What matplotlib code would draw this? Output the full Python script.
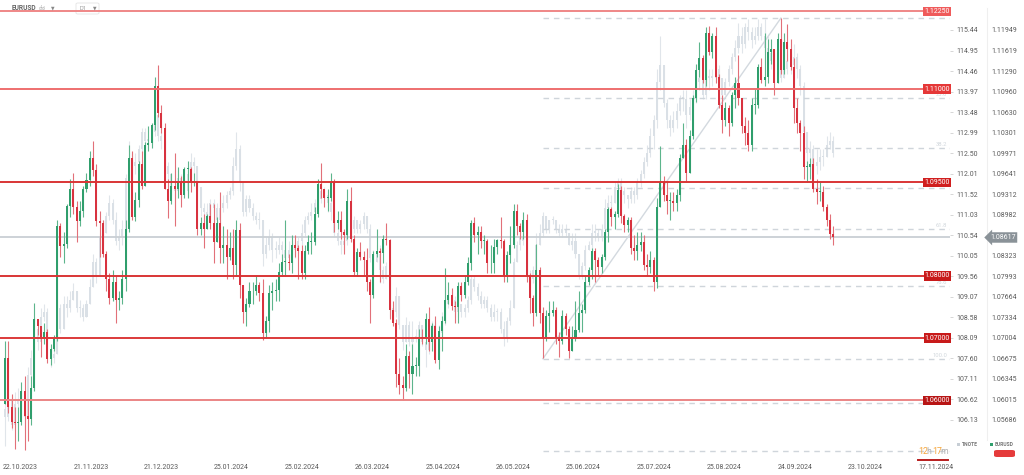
import numpy as np
import pandas as pd
import matplotlib
matplotlib.use('Agg')
import matplotlib.pyplot as plt
from matplotlib.patches import FancyBboxPatch

plt.rcParams['font.family'] = ['Roboto', 'DejaVu Sans']

# ---------------- data ----------------
HOLIDAYS = ['2023-12-25', '2024-01-01', '2024-03-29', '2024-04-01']
dates = pd.bdate_range('2023-10-23', '2024-10-17')
dates = dates[~dates.isin(pd.to_datetime(HOLIDAYS))]

eur_first_open = 1.0594
eur_close = [
    1.0668, 1.0590, 1.0565, 1.0563, 1.0565, 1.0615, 1.0575,
    1.0570, 1.0620, 1.0730, 1.0720, 1.0698, 1.0710, 1.0666, 1.0683, 1.0700, 1.0880, 1.0848, 1.0852, 1.0912, 1.0940, 1.0910, 1.0888, 1.0905, 1.0940, 1.0954, 1.0990, 1.0970, 1.0888,
    1.0885, 1.0835, 1.0795, 1.0764, 1.0790, 1.0762, 1.0764, 1.0795, 1.0875, 1.0990, 1.0895, 1.0922, 1.0980, 1.0945, 1.1010, 1.1013, 1.1042, 1.1105, 1.1062, 1.1038,
    1.0940, 1.0920, 1.0945, 1.0940, 1.0950, 1.0930, 1.0972, 1.0972, 1.0950, 1.0950, 1.0876, 1.0885, 1.0875, 1.0897, 1.0885, 1.0855, 1.0885, 1.0845, 1.0850, 1.0830, 1.0845, 1.0818,
    1.0873, 1.0785, 1.0742, 1.0755, 1.0775, 1.0775, 1.0785, 1.0772, 1.0708, 1.0727, 1.0772, 1.0776, 1.0778, 1.0807, 1.0822, 1.0823, 1.0820, 1.0850, 1.0845, 1.0840, 1.0805,
    1.0840, 1.0855, 1.0855, 1.0900, 1.0948, 1.0940, 1.0925, 1.0925, 1.0950, 1.0885, 1.0890, 1.0870, 1.0865, 1.0920, 1.0860, 1.0807, 1.0838, 1.0830, 1.0825, 1.0790,
    1.0770, 1.0835, 1.0840, 1.0836, 1.0860, 1.0857, 1.0745, 1.0725, 1.0643, 1.0624, 1.0620, 1.0672, 1.0643, 1.0655, 1.0655, 1.0702, 1.0700, 1.0730, 1.0694, 1.0720, 1.0665,
    1.0712, 1.0728, 1.0762, 1.0770, 1.0752, 1.0750, 1.0783, 1.0770, 1.0790, 1.0820, 1.0885, 1.0865, 1.0870, 1.0856, 1.0856, 1.0820, 1.0820, 1.0847, 1.0858, 1.0856, 1.0800, 1.0833, 1.0850,
    1.0905, 1.0880, 1.0870, 1.0890, 1.0800, 1.0765, 1.0740, 1.0810, 1.0740, 1.0700, 1.0735, 1.0740, 1.0745, 1.0700, 1.0695, 1.0735, 1.0715, 1.0680, 1.0700, 1.0713,
    1.0740, 1.0745, 1.0790, 1.0810, 1.0840, 1.0825, 1.0815, 1.0830, 1.0870, 1.0907, 1.0895, 1.0900, 1.0938, 1.0897, 1.0882, 1.0890, 1.0845, 1.0840, 1.0850, 1.0855, 1.0818, 1.0815, 1.0825,
    1.0790, 1.0910, 1.0950, 1.0930, 1.0920, 1.0920, 1.0917, 1.0930, 1.0990, 1.1010, 1.0966, 1.1025, 1.1085, 1.1130, 1.1150, 1.1115, 1.1190, 1.1160, 1.1185, 1.1120, 1.1075, 1.1050,
    1.1070, 1.1045, 1.1090, 1.1110, 1.1085, 1.1040, 1.1030, 1.1010, 1.1075, 1.1075, 1.1135, 1.1115, 1.1120, 1.1160, 1.1165, 1.1110, 1.1180, 1.1130, 1.1175, 1.1165, 1.1135,
    1.1070, 1.1045, 1.1030, 1.0975, 1.0975, 1.0980, 1.0940, 1.0935, 1.0935, 1.0910, 1.0890, 1.0868, 1.08617,
]
eur_high = [
    1.0695, 1.0695, 1.0610, 1.0590, 1.0590, 1.0630, 1.0640,
    1.0600, 1.0640, 1.0756, 1.0730, 1.0720, 1.0725, 1.0715, 1.0690, 1.0705, 1.0890, 1.0885, 1.0870, 1.0915, 1.0955, 1.0965, 1.0920, 1.0920, 1.0945, 1.0965, 1.1000, 1.1017, 1.0980,
    1.0905, 1.0890, 1.0840, 1.0805, 1.0810, 1.0800, 1.0775, 1.0810, 1.0890, 1.1010, 1.1000, 1.0935, 1.0985, 1.1000, 1.1015, 1.1040, 1.1045, 1.1120, 1.1139, 1.1075,
    1.1045, 1.0955, 1.0965, 1.0998, 1.0975, 1.0960, 1.0975, 1.0985, 1.0975, 1.0965, 1.0950, 1.0895, 1.0900, 1.0900, 1.0915, 1.0915, 1.0895, 1.0935, 1.0880, 1.0875, 1.0870, 1.0875,
    1.0890, 1.0885, 1.0785, 1.0765, 1.0790, 1.0790, 1.0800, 1.0790, 1.0795, 1.0735, 1.0785, 1.0790, 1.0795, 1.0820, 1.0835, 1.0890, 1.0835, 1.0865, 1.0865, 1.0850, 1.0850,
    1.0850, 1.0865, 1.0870, 1.0910, 1.0955, 1.0981, 1.0940, 1.0940, 1.0965, 1.0955, 1.0905, 1.0905, 1.0875, 1.0940, 1.0942, 1.0865, 1.0845, 1.0855, 1.0840, 1.0845,
    1.0795, 1.0840, 1.0876, 1.0845, 1.0865, 1.0885, 1.0860, 1.0760, 1.0730, 1.0668, 1.0640, 1.0690, 1.0680, 1.0690, 1.0670, 1.0715, 1.0715, 1.0740, 1.0750, 1.0725, 1.0735,
    1.0720, 1.0735, 1.0812, 1.0790, 1.0780, 1.0760, 1.0790, 1.0790, 1.0800, 1.0830, 1.0890, 1.0895, 1.0880, 1.0880, 1.0865, 1.0860, 1.0850, 1.0860, 1.0860, 1.0895, 1.0860, 1.0840, 1.0880,
    1.0915, 1.0915, 1.0885, 1.0902, 1.0900, 1.0805, 1.0770, 1.0852, 1.0815, 1.0750, 1.0745, 1.0760, 1.0760, 1.0750, 1.0710, 1.0745, 1.0740, 1.0720, 1.0720, 1.0760,
    1.0775, 1.0755, 1.0800, 1.0815, 1.0845, 1.0845, 1.0830, 1.0835, 1.0875, 1.0910, 1.0910, 1.0905, 1.0948, 1.0945, 1.0900, 1.0895, 1.0895, 1.0865, 1.0870, 1.0870, 1.0865, 1.0835, 1.0840,
    1.0830, 1.0925, 1.1009, 1.0960, 1.0950, 1.0935, 1.0935, 1.0940, 1.0995, 1.1045, 1.1020, 1.1035, 1.1090, 1.1140, 1.1175, 1.1155, 1.1200, 1.1201, 1.1190, 1.1200, 1.1125, 1.1090,
    1.1080, 1.1075, 1.1095, 1.1120, 1.1155, 1.1080, 1.1055, 1.1050, 1.1085, 1.1100, 1.1140, 1.1150, 1.1190, 1.1180, 1.1180, 1.1165, 1.1190, 1.1214, 1.1190, 1.1205, 1.1180,
    1.1150, 1.1085, 1.1050, 1.1040, 1.0985, 1.0990, 1.0990, 1.0955, 1.0950, 1.0945, 1.0915, 1.0900, 1.0880,
]
eur_low = [
    1.0594, 1.0580, 1.0555, 1.0522, 1.0535, 1.0560, 1.0520,
    1.0535, 1.0560, 1.0615, 1.0705, 1.0670, 1.0690, 1.0660, 1.0657, 1.0680, 1.0695, 1.0830, 1.0820, 1.0845, 1.0895, 1.0900, 1.0855, 1.0880, 1.0895, 1.0935, 1.0945, 1.0960, 1.0880,
    1.0830, 1.0830, 1.0775, 1.0755, 1.0760, 1.0725, 1.0745, 1.0755, 1.0775, 1.0870, 1.0890, 1.0888, 1.0910, 1.0940, 1.0945, 1.1000, 1.1005, 1.1035, 1.1055, 1.1030,
    1.0940, 1.0893, 1.0915, 1.0880, 1.0925, 1.0910, 1.0925, 1.0925, 1.0935, 1.0945, 1.0865, 1.0865, 1.0845, 1.0875, 1.0875, 1.0820, 1.0855, 1.0820, 1.0820, 1.0795, 1.0825, 1.0795,
    1.0800, 1.0765, 1.0725, 1.0720, 1.0750, 1.0755, 1.0770, 1.0760, 1.0697, 1.0700, 1.0710, 1.0745, 1.0760, 1.0760, 1.0800, 1.0800, 1.0810, 1.0805, 1.0830, 1.0795, 1.0795,
    1.0795, 1.0835, 1.0835, 1.0850, 1.0895, 1.0925, 1.0910, 1.0905, 1.0920, 1.0870, 1.0875, 1.0860, 1.0835, 1.0860, 1.0855, 1.0800, 1.0800, 1.0825, 1.0800, 1.0775,
    1.0725, 1.0765, 1.0830, 1.0790, 1.0820, 1.0850, 1.0730, 1.0720, 1.0622, 1.0610, 1.0601, 1.0615, 1.0620, 1.0610, 1.0640, 1.0640, 1.0690, 1.0690, 1.0680, 1.0680, 1.0660,
    1.0650, 1.0680, 1.0725, 1.0755, 1.0745, 1.0725, 1.0725, 1.0760, 1.0765, 1.0785, 1.0810, 1.0855, 1.0835, 1.0845, 1.0835, 1.0805, 1.0805, 1.0805, 1.0835, 1.0845, 1.0790, 1.0790, 1.0820,
    1.0845, 1.0865, 1.0860, 1.0860, 1.0790, 1.0740, 1.0720, 1.0735, 1.0725, 1.0668, 1.0695, 1.0710, 1.0735, 1.0690, 1.0670, 1.0690, 1.0705, 1.0668, 1.0680, 1.0695,
    1.0710, 1.0710, 1.0740, 1.0785, 1.0795, 1.0790, 1.0800, 1.0805, 1.0825, 1.0855, 1.0880, 1.0875, 1.0895, 1.0885, 1.0870, 1.0870, 1.0835, 1.0825, 1.0825, 1.0840, 1.0810, 1.0800, 1.0805,
    1.0775, 1.0780, 1.0920, 1.0920, 1.0900, 1.0890, 1.0905, 1.0905, 1.0920, 1.0995, 1.0950, 1.0965, 1.1020, 1.1080, 1.1120, 1.1110, 1.1105, 1.1155, 1.1150, 1.1110, 1.1070, 1.1030,
    1.1040, 1.1025, 1.1040, 1.1070, 1.1075, 1.1030, 1.1010, 1.1000, 1.1000, 1.1060, 1.1070, 1.1110, 1.1105, 1.1110, 1.1140, 1.1090, 1.1110, 1.1125, 1.1125, 1.1145, 1.1130,
    1.1045, 1.1030, 1.1000, 1.0955, 1.0950, 1.0955, 1.0935, 1.0915, 1.0920, 1.0905, 1.0880, 1.0860, 1.0850,
]

tn_first_open = 106.4
tn_close = [
    106.2, 106.6, 106.0, 106.5, 106.6, 106.5, 106.2,
    107.2, 107.6, 108.3, 108.0, 108.6, 108.7, 107.8, 107.6, 107.7, 108.8, 108.3, 108.9, 108.8, 109.0, 109.2, 108.8, 108.8, 108.6, 108.9, 109.3, 109.9, 109.6,
    110.5, 110.6, 111.0, 111.3, 110.9, 110.4, 110.5, 110.7, 111.9, 112.3, 112.2, 112.3, 112.6, 113.0, 112.8, 112.8, 113.0, 113.4, 112.9, 112.8,
    112.2, 112.0, 111.7, 111.6, 111.9, 111.8, 111.6, 112.0, 112.3, 112.2, 111.7, 111.2, 111.1, 111.0, 111.3, 111.2, 110.9, 111.2, 111.3, 111.5, 111.6, 112.2,
    112.6, 111.8, 111.1, 111.4, 111.2, 111.0, 110.9, 110.9, 110.1, 110.3, 110.5, 110.2, 110.2, 110.3, 110.2, 110.0, 110.2, 110.3, 110.2, 110.4, 110.6,
    110.9, 111.0, 111.1, 111.3, 111.4, 111.6, 111.5, 111.3, 111.1, 110.6, 110.4, 110.3, 110.4, 110.6, 110.7, 110.9, 110.7, 110.8, 111.0, 110.7,
    110.0, 109.9, 110.1, 109.7, 109.5, 109.8, 108.8, 108.7, 109.1, 108.4, 108.0, 108.4, 108.0, 108.1, 108.1, 108.4, 108.0, 107.8, 108.1, 108.4, 107.8,
    108.2, 108.5, 108.9, 109.0, 109.0, 108.7, 108.9, 108.7, 108.8, 109.0, 109.5, 109.3, 109.1, 108.9, 109.0, 108.8, 108.6, 108.7, 108.7, 108.3, 108.1, 108.5, 108.8,
    109.9, 110.3, 110.5, 110.4, 109.6, 109.5, 109.7, 110.3, 110.6, 111.0, 110.7, 110.9, 110.9, 110.7, 110.6, 110.7, 110.6, 110.3, 110.4, 110.1,
    109.6, 109.8, 110.2, 110.3, 110.6, 110.6, 110.5, 110.7, 111.2, 111.3, 111.3, 111.7, 111.8, 111.6, 111.5, 111.4, 111.6, 111.5, 111.8, 112.0, 112.3, 112.5, 112.9,
    113.3, 114.2, 114.6, 113.7, 113.3, 113.1, 113.3, 113.5, 113.8, 113.8, 113.4, 113.6, 113.8, 114.2, 114.3, 113.9, 114.3, 114.3, 114.3, 114.5, 114.3, 113.9,
    114.2, 114.5, 114.8, 115.0, 115.3, 115.1, 115.5, 115.4, 115.2, 115.3, 115.5, 115.3, 115.0, 114.9, 114.7, 114.6, 114.6, 114.3, 114.5, 114.7, 114.6,
    114.8, 114.5, 114.1, 113.0, 112.5, 112.6, 112.2, 112.3, 112.4, 112.4, 112.7, 112.8, 112.5,
]
tn_high = [
    106.9, 106.9, 106.7, 106.8, 106.9, 106.8, 106.7,
    107.4, 107.8, 108.6, 108.4, 108.8, 108.9, 108.8, 107.9, 107.9, 109.0, 108.9, 109.1, 109.1, 109.2, 109.4, 109.2, 109.0, 108.9, 109.0, 109.5, 110.1, 110.0,
    110.6, 110.9, 111.1, 111.5, 111.4, 111.1, 110.7, 110.9, 112.0, 112.8, 112.5, 112.5, 112.7, 113.1, 113.1, 112.9, 113.1, 113.5, 113.4, 113.0,
    112.8, 112.3, 112.0, 112.1, 112.0, 112.0, 111.9, 112.2, 112.5, 112.4, 112.2, 111.7, 111.3, 111.3, 111.4, 111.4, 111.3, 111.4, 111.5, 111.6, 111.7, 112.4,
    113.0, 112.7, 111.8, 111.5, 111.5, 111.3, 111.1, 111.1, 110.9, 110.5, 110.7, 110.6, 110.4, 110.5, 110.4, 110.3, 110.4, 110.4, 110.4, 110.5, 110.8,
    111.0, 111.1, 111.3, 111.4, 111.6, 111.9, 111.7, 111.6, 111.4, 111.2, 110.7, 110.5, 110.6, 110.8, 110.9, 111.0, 110.9, 110.9, 111.1, 111.0,
    110.8, 110.2, 110.3, 110.3, 109.8, 109.9, 109.9, 108.9, 109.3, 109.1, 108.4, 108.6, 108.5, 108.5, 108.3, 108.5, 108.4, 108.0, 108.3, 108.5, 108.5,
    108.4, 108.7, 109.3, 109.1, 109.2, 109.1, 109.0, 108.9, 108.9, 109.1, 109.6, 109.6, 109.4, 109.2, 109.1, 109.1, 108.9, 108.9, 108.8, 108.8, 108.5, 108.6, 109.0,
    110.0, 110.4, 110.7, 110.6, 110.5, 109.7, 109.8, 110.6, 110.8, 111.1, 111.0, 110.9, 111.0, 110.9, 110.8, 110.8, 110.8, 110.6, 110.6, 110.6,
    110.1, 109.9, 110.3, 110.4, 110.8, 110.8, 110.7, 110.8, 111.4, 111.5, 111.5, 111.8, 111.9, 111.9, 111.7, 111.5, 111.7, 111.7, 111.9, 112.1, 112.4, 112.7, 113.1,
    113.4, 114.5, 115.3, 114.6, 113.8, 113.4, 113.5, 113.7, 113.9, 114.0, 114.0, 113.8, 114.0, 114.3, 114.5, 114.3, 114.4, 114.5, 114.5, 114.6, 114.6, 114.3,
    114.3, 114.6, 114.9, 115.2, 115.6, 115.5, 115.6, 115.7, 115.5, 115.5, 115.7, 115.6, 115.7, 115.3, 115.0, 114.9, 114.8, 114.7, 114.6, 114.9, 114.9,
    115.1, 114.9, 114.6, 114.2, 112.9, 112.8, 112.7, 112.6, 112.6, 112.6, 112.9, 113.0, 112.9,
]
tn_low = [
    105.5, 106.1, 105.9, 105.9, 106.3, 106.2, 105.9,
    106.2, 107.1, 107.6, 107.8, 108.0, 108.5, 107.7, 107.4, 107.5, 107.7, 108.2, 108.3, 108.6, 108.7, 109.0, 108.7, 108.6, 108.5, 108.6, 108.9, 109.3, 109.4,
    109.6, 110.3, 110.6, 110.9, 110.8, 110.3, 110.2, 110.3, 110.6, 111.7, 111.9, 112.0, 112.2, 112.5, 112.6, 112.6, 112.7, 112.9, 112.8, 112.6,
    112.0, 111.8, 111.5, 111.1, 111.6, 111.6, 111.5, 111.5, 111.9, 112.0, 111.6, 111.0, 110.9, 110.9, 111.0, 111.1, 110.8, 110.8, 111.1, 111.2, 111.4, 111.5,
    112.1, 111.6, 111.0, 111.0, 111.1, 110.9, 110.8, 110.7, 109.8, 110.0, 110.2, 109.9, 110.0, 110.1, 110.0, 109.8, 110.0, 110.1, 110.0, 110.1, 110.3,
    110.5, 110.8, 110.9, 111.0, 111.2, 111.3, 111.3, 111.1, 110.9, 110.5, 110.3, 110.1, 110.2, 110.3, 110.4, 110.6, 110.6, 110.6, 110.7, 110.6,
    109.9, 109.7, 109.9, 109.4, 109.4, 109.5, 108.6, 108.5, 108.6, 108.3, 107.8, 108.0, 107.9, 107.8, 108.0, 108.1, 107.9, 107.4, 107.7, 108.1, 107.7,
    107.6, 108.0, 108.4, 108.8, 108.9, 108.6, 108.6, 108.6, 108.6, 108.7, 108.9, 109.2, 109.0, 108.8, 108.8, 108.7, 108.5, 108.5, 108.5, 108.2, 107.9, 108.0, 108.4,
    109.2, 109.9, 110.2, 110.3, 109.5, 109.4, 109.4, 109.6, 110.3, 110.5, 110.6, 110.6, 110.8, 110.6, 110.5, 110.5, 110.5, 110.3, 110.2, 110.0,
    109.5, 109.5, 109.7, 110.2, 110.2, 110.4, 110.4, 110.4, 110.7, 111.1, 111.2, 111.3, 111.6, 111.5, 111.3, 111.2, 111.3, 111.3, 111.4, 111.7, 111.9, 112.2, 112.4,
    112.6, 113.1, 114.0, 113.6, 113.1, 112.9, 113.0, 113.1, 113.4, 113.5, 113.1, 113.3, 113.5, 113.7, 114.0, 113.8, 113.8, 114.0, 114.1, 114.2, 114.1, 113.8,
    113.9, 114.1, 114.4, 114.7, 114.9, 114.9, 115.0, 115.2, 115.0, 115.1, 115.2, 115.2, 114.9, 114.6, 114.5, 114.4, 114.4, 114.2, 114.3, 114.4, 114.4,
    114.5, 114.3, 113.9, 112.8, 112.3, 112.3, 112.1, 112.0, 112.1, 112.2, 112.4, 112.6, 112.4,
]

eur_ticks = [1.11949, 1.11619, 1.11290, 1.10960, 1.10630, 1.10301, 1.09971, 1.09641,
             1.09312, 1.08982, 1.08323, 1.07993, 1.07664, 1.07334, 1.07004, 1.06675,
             1.06345, 1.06015, 1.05686]
tn_ticks = [115.44, 114.95, 114.46, 113.97, 113.48, 112.99, 112.50, 112.01, 111.52,
            111.03, 110.54, 110.05, 109.56, 109.07, 108.58, 108.09, 107.60, 107.11,
            106.62, 106.13]
date_labels = ['22.10.2023', '21.11.2023', '21.12.2023', '25.01.2024', '25.02.2024',
               '26.03.2024', '25.04.2024', '26.05.2024', '25.06.2024', '25.07.2024',
               '25.08.2024', '24.09.2024', '23.10.2024', '17.11.2024']
levels = [1.12250, 1.11000, 1.09500, 1.08000, 1.07000, 1.06000]
level_labels = ['1.12250', '1.11000', '1.09500', '1.08000', '1.07000', '1.06000']
fib_ratios = [0.0, 23.6, 38.2, 50.0, 61.8, 78.6, 100.0, 113.0, 127.2]
# labels visible on the chart (the others sit under the level tags / timer)
fib_visible = [None, '23.6', '38.2', None, '61.8', '78.6', '100.0', None, None]
fib_low_date, fib_high_date = '2024-06-14', '2024-09-25'
current_price = 1.08617

n = len(dates)
for arr in (eur_close, eur_high, eur_low, tn_close, tn_high, tn_low):
    assert len(arr) == n, (len(arr), n)

# ---------------- styling constants ----------------
W, H = 1024, 475
AX_L, AX_R, AX_T, AX_B = 0, 950, 4, 456
PX_PER_EUR = 6227.0
PX_PER_TN = 41.89
EUR_REF, TN_REF, Y_REF = 1.11949, 115.44, 30
X0_PX, BAR_PX = 5.0, 3.26
TICK_START_PX, TICK_STEP_PX = 3.0, 70.4

GREEN, RED = '#2f9e6c', '#d8323f'
GRAY_C, GRAY_W = '#dae0e6', '#e0e5ea'


def fx(px):
    return px / W


def fy(py):
    return 1 - py / H


fig = plt.figure(figsize=(W / 100, H / 100), dpi=100)
fig.patch.set_facecolor('white')
ax = fig.add_axes([fx(AX_L), fy(AX_B), (AX_R - AX_L) / W, (AX_B - AX_T) / H])
ax2 = ax.twinx()
ax.set_zorder(2)
ax2.set_zorder(1)
ax.patch.set_visible(False)

xlim = ((AX_L - X0_PX) / BAR_PX, (AX_R - X0_PX) / BAR_PX)
ax.set_xlim(*xlim)
ax.set_ylim(EUR_REF - (AX_B - Y_REF) / PX_PER_EUR, EUR_REF + (Y_REF - AX_T) / PX_PER_EUR)
ax2.set_ylim(TN_REF - (AX_B - Y_REF) / PX_PER_TN, TN_REF + (Y_REF - AX_T) / PX_PER_TN)


def candles(a, first_open, close, high, low, up, dn, wup, wdn, width, minh, z):
    c = np.asarray(close, float)
    o = np.concatenate([[first_open], c[:-1]])
    h = np.maximum(np.asarray(high, float), np.maximum(o, c))
    l = np.minimum(np.asarray(low, float), np.minimum(o, c))
    x = np.arange(len(c))
    rising = c >= o
    a.vlines(x, l, h, colors=np.where(rising, wup, wdn), lw=0.8, zorder=z)
    bottom = np.minimum(o, c)
    height = np.maximum(np.abs(c - o), minh)
    a.bar(x, height, bottom=bottom, width=width, color=np.where(rising, up, dn),
          linewidth=0, zorder=z + 0.1)


candles(ax2, tn_first_open, tn_close, tn_high, tn_low, GRAY_C, GRAY_C, GRAY_W, GRAY_W,
        0.62, 0.03, 1)
candles(ax, eur_first_open, eur_close, eur_high, eur_low, GREEN, RED, '#5db58c', '#e27079',
        0.62, 0.00012, 3)

# current price line
ax.axhline(current_price, color='#c9cfd4', lw=1.3, zorder=2)

# fibonacci
i_lo = dates.get_loc(pd.Timestamp(fib_low_date))
i_hi = dates.get_loc(pd.Timestamp(fib_high_date))
p_hi = eur_high[i_hi]
p_lo = 1.0667
ax.plot([i_lo, i_hi], [p_lo, p_hi], color='#d3d9df', lw=1.0, zorder=2)
ytr = ax.get_yaxis_transform()
for r, lab in zip(fib_ratios, fib_visible):
    p = p_hi - r / 100.0 * (p_hi - p_lo)
    ax.hlines(p, i_lo, xlim[1], colors='#cfd5db', lw=1.0, linestyles=(0, (4, 3.5)), zorder=2)
    if lab:
        ax.text(0.997, p + 1.0 / PX_PER_EUR, lab, transform=ytr, ha='right', va='bottom',
                fontsize=4.2, color='#d2d8dd', zorder=4)

# horizontal levels
line_cols = ['#ef8787', '#ee6f6f', '#d93535', '#d93535', '#dc3a3a', '#eb8585']
box_cols = ['#ef5b5b', '#e53838', '#d01f1f', '#c81a1a', '#c81a1a', '#b81515']
for lv, lab, lc, bc in zip(levels, level_labels, line_cols, box_cols):
    ax.axhline(lv, color=lc, lw=1.4, zorder=5)
    ax.text(1.0, lv, lab, transform=ytr, ha='right', va='center', fontsize=5,
            color='white', zorder=7,
            bbox=dict(boxstyle='square,pad=0.18', fc=bc, ec='none'))

# current price tag
ax.text(990 / AX_R, current_price, f'{current_price:.5f}', transform=ytr, ha='left',
        va='center', fontsize=5, color='white', zorder=8, clip_on=False,
        bbox=dict(boxstyle='larrow,pad=0.25', fc='#8a9298', ec='none'))

# axes cosmetics
for a in (ax, ax2):
    for s in a.spines.values():
        s.set_visible(False)
ax.yaxis.tick_right()
ax.set_yticks(eur_ticks)
ax.set_yticklabels([f'{t:.5f}' for t in eur_ticks])
ax.tick_params(axis='y', length=0, pad=29.5, labelsize=5, labelcolor='#5a5a5a')
ax2.set_yticks(tn_ticks)
ax2.set_yticklabels([f'{t:.2f}' for t in tn_ticks])
ax2.tick_params(axis='y', length=2.5, width=0.6, color='#d0d0d0', pad=2.0, labelsize=5,
                labelcolor='#5a5a5a')

tick_pos = [(TICK_START_PX + k * TICK_STEP_PX - X0_PX) / BAR_PX for k in range(len(date_labels))]
ax.set_xticks(tick_pos)
ax.set_xticklabels(date_labels, ha='left')
ax.tick_params(axis='x', length=0, pad=5.5, labelsize=5, labelcolor='#5a5a5a')

# divider between price scales
fig.add_artist(plt.Line2D([fx(987), fx(987)], [fy(8), fy(440)], color='#efefef', lw=0.8))

# header
fig.text(fx(12), fy(7.5), 'EURUSD', fontsize=4.8, fontweight='bold', color='#666666',
         va='center', ha='left')
fig.text(fx(38.5), fy(8), 'cfd', fontsize=3.3, color='#a0a0a0', va='center', ha='left')
fig.text(fx(51), fy(7.5), '▼', fontsize=3.3, color='#888888', va='center', ha='left',
         family=['DejaVu Sans'])
fig.add_artist(FancyBboxPatch((fx(76), fy(14)), fx(23), 11 / H,
                              boxstyle='round,pad=0,rounding_size=0.002',
                              fc='white', ec='#e4e4e4', lw=0.6, transform=fig.transFigure))
fig.text(fx(79), fy(8), 'D1', fontsize=4, color='#999999', va='center', ha='left')
fig.text(fx(93), fy(8), '▼', fontsize=3.3, color='#888888', va='center', ha='left',
         family=['DejaVu Sans'])

# countdown timer
tparts = [('12', '#f5a53a', 918), ('h', '#b0b0b0', 926.5), ('17', '#f5a53a', 932),
          ('m', '#b0b0b0', 940.5)]
for txt, col, px in tparts:
    fig.text(fx(px), fy(452), txt, fontsize=6.3, color=col, va='center', ha='left')
fig.add_artist(plt.Line2D([fx(918), fx(948)], [fy(459.5), fy(459.5)], color='#b81d1d', lw=1.4))

# legend
fig.add_artist(plt.Rectangle((fx(957), fy(445.5)), fx(3), 3 / H, fc='#c7ced5', ec='none',
                             transform=fig.transFigure))
fig.text(fx(962), fy(444), 'TNOTE', fontsize=3.6, color='#777777', va='center', ha='left',
         fontweight='bold')
fig.add_artist(plt.Rectangle((fx(990), fy(445.5)), fx(3), 3 / H, fc=GREEN, ec='none',
                             transform=fig.transFigure))
fig.text(fx(995), fy(444), 'EURUSD', fontsize=3.6, color='#777777', va='center', ha='left',
         fontweight='bold')
fig.add_artist(FancyBboxPatch((fx(994), fy(457)), fx(21), 7 / H,
                              boxstyle='round,pad=0,rounding_size=0.003',
                              fc='#e53b3b', ec='none', transform=fig.transFigure))

fig.savefig('out.png', dpi=100, facecolor='white')
